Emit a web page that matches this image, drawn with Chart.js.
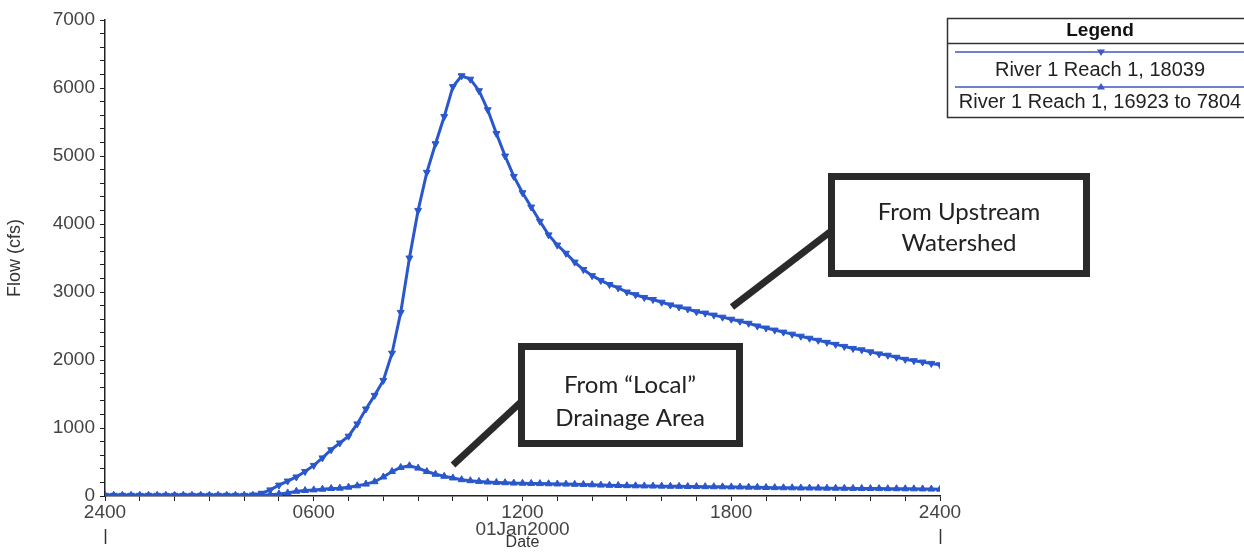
<!DOCTYPE html>
<html><head><meta charset="utf-8">
<script src="https://cdn.jsdelivr.net/npm/chart.js@4.4.1/dist/chart.umd.min.js"></script>
<style>html,body{margin:0;padding:0;background:#fff;}canvas{display:block;}</style>
</head><body>
<canvas id="c" width="1244" height="552"></canvas>
<script>
// ---- data (hours after 2400 31Dec1999, 15-minute record) ----
const hours = [0,0.25,0.5,0.75,1,1.25,1.5,1.75,2,2.25,2.5,2.75,3,3.25,3.5,3.75,4,4.25,4.5,4.75,5,5.25,5.5,5.75,6,6.25,6.5,6.75,7,7.25,7.5,7.75,8,8.25,8.5,8.75,9,9.25,9.5,9.75,10,10.25,10.5,10.75,11,11.25,11.5,11.75,12,12.25,12.5,12.75,13,13.25,13.5,13.75,14,14.25,14.5,14.75,15,15.25,15.5,15.75,16,16.25,16.5,16.75,17,17.25,17.5,17.75,18,18.25,18.5,18.75,19,19.25,19.5,19.75,20,20.25,20.5,20.75,21,21.25,21.5,21.75,22,22.25,22.5,22.75,23,23.25,23.5,23.75,24];
const upstreamFlow = [10,10,10,10,10,10,10,10,10,10,10,10,10,10,10,10,10,
  15,40,90,160,220,280,360,450,560,680,780,880,1060,1280,1480,1700,
  2100,2700,3500,4200,4760,5180,5580,6020,6180,6130,5960,5680,5330,5000,4700,4460,
  4250,4040,3840,3690,3570,3440,3330,3240,3170,3110,3060,3000,2960,2920,2890,2850,
  2810,2780,2750,2710,2690,2660,2630,2600,2570,2540,2500,2470,2440,2410,2380,2350,
  2320,2290,2260,2230,2200,2170,2150,2120,2090,2070,2040,2010,1990,1970,1950,1930];
const localFlow = [10,10,10,10,10,10,10,10,10,10,10,10,10,10,10,10,10,10,10,
  20,30,45,70,80,90,100,110,115,130,150,175,210,280,
  360,420,445,410,360,320,290,265,240,225,215,205,200,195,190,188,
  185,182,180,177,175,172,170,165,160,157,155,152,150,148,146,145,
  143,142,140,139,137,136,135,133,132,130,128,125,123,121,120,118,
  117,116,115,114,113,112,111,110,109,108,107,106,105,104,102,100];
const seriesNames = ["River 1 Reach 1, 18039", "River 1 Reach 1, 16923 to 7804"];
const xTickHours = [0, 6, 12, 18, 24];
const xTickText = ["2400", "0600", "1200", "1800", "2400"];
const dateLabel = "01Jan2000";
const xTitle = "Date";
const yTitle = "Flow (cfs)";
const legendTitle = "Legend";
const notes = [
  {lines: ["From Upstream", "Watershed"]},
  {lines: ["From \u201cLocal\u201d", "Drainage Area"]}
];

const BLUE = '#2a58cc';
const LEG_BLUE = '#4157c4';
const TICK_FONT = {family: 'Liberation Sans', size: 19, lineHeight: '17px'};

function tri(ctx, x, y, r, down) {
  ctx.beginPath();
  if (down) { ctx.moveTo(x - r, y - r * 0.6); ctx.lineTo(x + r, y - r * 0.6); ctx.lineTo(x, y + r); }
  else { ctx.moveTo(x - r, y + r * 0.6); ctx.lineTo(x + r, y + r * 0.6); ctx.lineTo(x, y - r); }
  ctx.closePath(); ctx.fill();
}

const decor = {
  id: 'decor',
  afterDraw(chart) {
    const ctx = chart.ctx, xs = chart.scales.x;
    ctx.save();
    // day boundary marks below 2400 labels
    ctx.strokeStyle = '#333'; ctx.lineWidth = 1.5;
    [0, 24].forEach(h => {
      const px = Math.round(xs.getPixelForValue(h)) + 0.5;
      ctx.beginPath(); ctx.moveTo(px, 529); ctx.lineTo(px, 544); ctx.stroke();
    });

    // callout boxes
    const boxes = [
      {x0: 828, y0: 173, x1: 1090, y1: 277, cx: 959, ty: [212, 243], line: [732, 307, 830, 232]},
      {x0: 518, y0: 343, x1: 743, y1: 447, cx: 630, ty: [385, 418], line: [453, 465, 521, 402]}
    ];
    boxes.forEach((b, i) => {
      ctx.fillStyle = '#fff';
      ctx.fillRect(b.x0, b.y0, b.x1 - b.x0, b.y1 - b.y0);
      ctx.strokeStyle = '#2a2a2a'; ctx.lineWidth = 7;
      ctx.strokeRect(b.x0 + 3.5, b.y0 + 3.5, b.x1 - b.x0 - 7, b.y1 - b.y0 - 7);
      ctx.beginPath(); ctx.moveTo(b.line[0], b.line[1]); ctx.lineTo(b.line[2], b.line[3]); ctx.stroke();
      ctx.fillStyle = '#222'; ctx.font = '24px Lato'; ctx.textAlign = 'center'; ctx.textBaseline = 'middle';
      notes[i].lines.forEach((t, k) => ctx.fillText(t, b.cx, b.ty[k]));
    });

    // legend box
    ctx.fillStyle = '#fff';
    ctx.fillRect(947, 18, 310, 99);
    ctx.strokeStyle = '#333'; ctx.lineWidth = 1.5;
    ctx.strokeRect(947.5, 18.5, 310, 99);
    ctx.beginPath(); ctx.moveTo(947, 43.5); ctx.lineTo(1244, 43.5); ctx.stroke();
    ctx.fillStyle = '#111'; ctx.font = 'bold 19px "Liberation Sans"';
    ctx.textAlign = 'center'; ctx.textBaseline = 'middle';
    ctx.fillText(legendTitle, 1100, 31);
    const rows = [{ly: 52, ty: 70, down: true}, {ly: 87, ty: 102, down: false}];
    rows.forEach((r, i) => {
      ctx.strokeStyle = LEG_BLUE; ctx.lineWidth = 1.5;
      ctx.beginPath(); ctx.moveTo(955, r.ly); ctx.lineTo(1244, r.ly); ctx.stroke();
      ctx.fillStyle = LEG_BLUE; tri(ctx, 1101, r.ly, 4, r.down);
      ctx.fillStyle = '#222'; ctx.font = '20px "Liberation Sans"';
      ctx.fillText(chart.data.datasets[i].label, 1100, r.ty);
    });
    ctx.restore();
  }
};

new Chart(document.getElementById('c'), {
  type: 'line',
  data: {
    datasets: [
      {label: seriesNames[0], data: hours.map((h, i) => ({x: h, y: upstreamFlow[i]})),
       borderColor: BLUE, backgroundColor: BLUE, borderWidth: 3, pointStyle: 'triangle', rotation: 180,
       pointRadius: 4, pointBorderWidth: 1, pointBackgroundColor: BLUE, pointBorderColor: BLUE, tension: 0},
      {label: seriesNames[1], data: hours.map((h, i) => ({x: h, y: localFlow[i]})),
       borderColor: BLUE, backgroundColor: BLUE, borderWidth: 3, pointStyle: 'triangle', rotation: 0,
       pointRadius: 4, pointBorderWidth: 1, pointBackgroundColor: BLUE, pointBorderColor: BLUE, tension: 0}
    ]
  },
  options: {
    responsive: false, animation: false, devicePixelRatio: 1,
    layout: {padding: {left: 0, right: 304, top: 20, bottom: 0}},
    plugins: {legend: {display: false}, tooltip: {enabled: false}},
    scales: {
      x: {
        type: 'linear', min: 0, max: 24,
        afterFit(s) { s.height = 56; },
        ticks: {stepSize: 1, autoSkip: false, maxRotation: 0, minRotation: 0, padding: 3.5, color: '#444', font: TICK_FONT,
          callback(v) { const i = xTickHours.indexOf(v); if (i < 0) return ''; return v === 12 ? [xTickText[i], dateLabel] : xTickText[i]; }},
        grid: {drawOnChartArea: false, drawTicks: true, tickLength: 5, tickColor: '#222'},
        border: {color: '#222', width: 1.5},
        title: {display: true, text: xTitle, color: '#333', font: {family: 'Liberation Sans', size: 16, lineHeight: 1}, padding: {top: 0, bottom: 1}}
      },
      y: {
        min: 0, max: 7000,
        afterFit(s) { s.width = 105; },
        ticks: {stepSize: 200, autoSkip: false, padding: 5, color: '#444', font: {family: 'Liberation Sans', size: 19},
          callback(v) { return v % 1000 === 0 ? String(v) : ''; }},
        grid: {drawOnChartArea: false, drawTicks: true, tickLength: 5, tickColor: '#222'},
        border: {color: '#222', width: 1.5},
        title: {display: true, text: yTitle, color: '#333', font: {family: 'Liberation Sans', size: 18}, padding: {top: 4, bottom: 0}}
      }
    }
  },
  plugins: [decor]
});
</script>
</body></html>
